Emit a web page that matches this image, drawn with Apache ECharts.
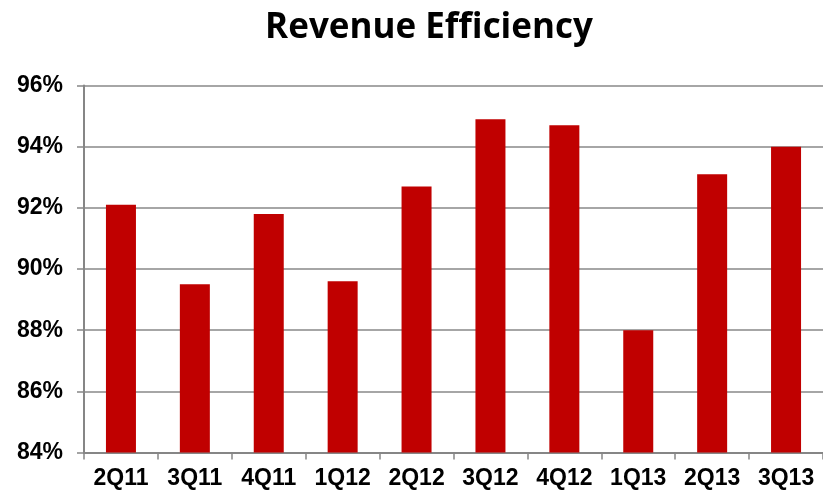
<!DOCTYPE html>
<html>
<head>
<meta charset="utf-8">
<script src="https://cdn.jsdelivr.net/npm/echarts@6/dist/echarts.min.js"></script>
<style>
html,body{margin:0;padding:0;background:#fff;}
#main{width:823px;height:493px;}
</style>
</head>
<body>
<div id="main"></div>
<script>
var quarters = ['2Q11','3Q11','4Q11','1Q12','2Q12','3Q12','4Q12','1Q13','2Q13','3Q13'];
var efficiency = [92.1, 89.5, 91.8, 89.6, 92.7, 94.9, 94.7, 88.0, 93.1, 94.0];  // %
var yTicks = [84, 86, 88, 90, 92, 94, 96];

var myChart = echarts.init(document.getElementById('main'));
var option = {
    animation: false,
    title: {
        text: 'Revenue Efficiency',
        left: 424,
        top: 6,
        textAlign: 'center',
        textStyle: {
            fontFamily: 'Open Sans',
            fontWeight: 'bold',
            fontSize: 35,
            color: '#000'
        }
    },
    grid: {
        left: 84,   // axis line
        right: 0,
        top: 85.5,
        bottom: 40.5
    },
    xAxis: {
        type: 'category',
        data: quarters,
        axisLine: { lineStyle: { color: '#868686', width: 2 } },
        axisTick: { show: true, length: 7, lineStyle: { color: '#868686', width: 1.5 } },
        axisLabel: {
            margin: 15,
            color: '#000',
            fontFamily: 'Liberation Sans',
            fontWeight: 'bold',
            fontSize: 23
        }
    },
    yAxis: {
        type: 'value',
        min: yTicks[0],
        max: yTicks[yTicks.length - 1],
        interval: 2,
        axisLine: { show: true, lineStyle: { color: '#868686', width: 2 } },
        axisTick: { show: true, length: 7, lineStyle: { color: '#868686', width: 1.5 } },
        splitLine: { lineStyle: { color: '#a6a6a6', width: 2 } },
        axisLabel: {
            margin: 21,
            color: '#000',
            fontFamily: 'Liberation Sans',
            fontWeight: 'bold',
            fontSize: 23,
            formatter: function (v) { return v + '%'; }
        }
    },
    series: [{
        type: 'bar',
        data: efficiency,
        barWidth: 30,
        itemStyle: { color: '#c00000' }
    }]
};
myChart.setOption(option);
</script>
</body>
</html>
